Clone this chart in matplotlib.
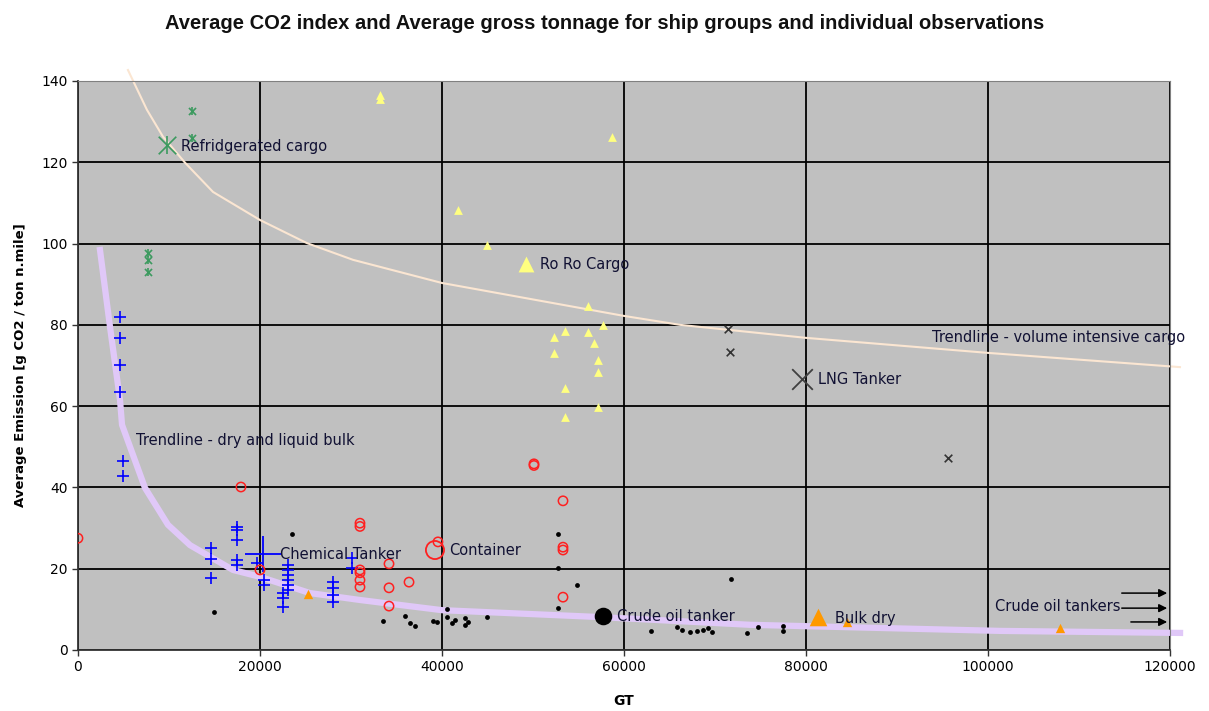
import matplotlib
matplotlib.use("Agg")
import matplotlib.pyplot as plt
from matplotlib import font_manager

# ship group observations (GT, g CO2 / ton n.mile)
reefer_gt = [12530, 12530, 7690, 7690, 7690]
reefer_co2 = [132.6, 126.0, 97.7, 96.0, 93.0]
reefer_avg = (9780, 124.2)

roro_gt = [33200, 33200, 58690, 41760, 44950, 56050, 57700, 53520, 52310, 56050,
           56710, 52310, 57150, 57150, 53520, 57150, 53520]
roro_co2 = [136.6, 135.6, 126.2, 108.3, 99.7, 84.6, 80.0, 78.5, 77.0, 78.2,
            75.5, 73.1, 71.4, 68.4, 64.5, 59.8, 57.3]
roro_avg = (49230, 95.0)

lng_gt = [71430, 71650, 95610]
lng_co2 = [79.0, 73.3, 47.2]
lng_avg = (79560, 66.7)

chem_gt = [4610, 4610, 4610, 4610, 4940, 4940, 14620, 14620, 14620,
           17470, 17470, 17470, 17470, 17470, 19670, 20440, 20440,
           23080, 23080, 23080, 23080, 23080, 23080, 22530, 22530, 22530,
           28020, 28020, 28020, 28020, 30110, 30110]
chem_co2 = [81.9, 76.8, 70.1, 63.5, 46.5, 42.8, 25.1, 22.4, 17.7,
            30.3, 29.5, 27.1, 22.1, 20.9, 21.4, 17.2, 16.0,
            20.9, 19.7, 18.5, 17.2, 16.0, 14.8, 14.0, 12.8, 10.6,
            16.7, 15.3, 13.5, 11.8, 22.6, 20.2]
chem_avg = (20330, 23.6)

cont_gt = [0, 17910, 20000, 30990, 30990, 30990, 30990, 30990, 30990,
           34180, 34180, 34180, 36380, 39560, 50110, 50110, 53300, 53300,
           53300, 53300]
cont_co2 = [27.5, 40.1, 19.7, 31.2, 30.4, 19.7, 19.0, 17.2, 15.5,
            21.2, 15.3, 10.8, 16.7, 26.6, 45.8, 45.4, 36.7, 25.3,
            24.6, 13.0]
cont_avg = (39230, 24.6)

crude_gt = [23520, 14950, 33520, 35940, 36490, 37040, 39010, 39450, 40550,
            40550, 41100, 41430, 42530, 42530, 42860, 44950, 52750, 52750,
            52750, 54840, 62970, 65830, 66380, 67260, 68030, 68690, 69240,
            69680, 71770, 73520, 74730, 77460, 77460]
crude_co2 = [28.5, 9.4, 7.1, 8.4, 6.6, 5.9, 7.1, 6.9, 10.1,
             8.1, 6.6, 7.4, 7.9, 6.2, 6.9, 8.1, 28.5, 20.2,
             10.3, 16.0, 4.7, 5.7, 4.9, 4.4, 4.7, 4.8, 5.4,
             4.4, 17.5, 4.2, 5.6, 5.8, 4.7]
crude_avg = (57690, 8.4)

bulk_gt = [25280, 84510, 107920]
bulk_co2 = [13.9, 6.9, 5.4]
bulk_avg = (81330, 8.1)

# trendlines as drawn in the picture
trend_bulk_gt = [2420, 3520, 4620, 4840, 7360, 9890, 12310, 17030, 20000,
                 25500, 31000, 40000, 57370, 73850, 101330, 121110]
trend_bulk_co2 = [98.4, 79.5, 61.5, 55.4, 39.9, 30.8, 25.8, 19.7, 18.0,
                  14.0, 12.3, 9.8, 8.1, 6.2, 4.7, 4.2]
trend_vol_gt = [5490, 7580, 9340, 11760, 14840, 20000, 25170, 30220, 40000,
                60000, 66160, 80000, 100000, 121100]
trend_vol_co2 = [142.7, 132.9, 126.3, 119.9, 112.7, 105.8, 100.1, 96.0, 90.3,
                 82.2, 80.0, 76.8, 73.1, 69.6]

# narrow title font if there is one, else plain Liberation Sans
names = {f.name for f in font_manager.fontManager.ttflist}
if "Liberation Sans Narrow" in names:
    title_font, title_size = "Liberation Sans Narrow", 15
else:
    title_font, title_size = "Liberation Sans", 14.5

fig = plt.figure(figsize=(12.09, 7.11), dpi=100)
ax = fig.add_axes([0.0645, 0.0858, 0.9032, 0.8003])
ax.set_facecolor("#c0c0c0")
ax.set_xlim(0, 120000)
ax.set_ylim(0, 140)
ax.set_xticks(range(0, 120001, 20000))
ax.set_yticks(range(0, 141, 20))
ax.grid(True, color="black", linewidth=1.3, zorder=0)
ax.set_axisbelow(True)
for s in ["top", "right"]:
    ax.spines[s].set_color("#808080")
for s in ["left", "bottom"]:
    ax.spines[s].set_color("#333333")
    ax.spines[s].set_linewidth(1.3)
ax.tick_params(labelsize=10, length=4, width=1, color="#333333")

ax.plot(trend_bulk_gt, trend_bulk_co2, color="#e0c8f8", lw=4.5, clip_on=False, zorder=2)
ax.plot(trend_vol_gt, trend_vol_co2, color="#fbe6d2", lw=1.5, clip_on=False, zorder=2)

green = "#3c9a5f"
ax.scatter(reefer_gt, reefer_co2, marker="x", s=26, color=green, lw=1.2, zorder=3)
ax.scatter(reefer_gt, reefer_co2, marker="|", s=26, color=green, lw=1.2, zorder=3)
ax.scatter(*reefer_avg, marker="x", s=160, color=green, lw=1.2, zorder=3)
ax.scatter(*reefer_avg, marker="|", s=160, color=green, lw=1.2, zorder=3)

ax.scatter(roro_gt, roro_co2, marker="^", s=40, color="#ffff80", lw=0, zorder=3)
ax.scatter(*roro_avg, marker="^", s=130, color="#ffff80", lw=0, zorder=3)

ax.scatter(lng_gt, lng_co2, marker="x", s=30, color="#333333", lw=1.2, zorder=3)
ax.scatter(*lng_avg, marker="x", s=220, color="#404040", lw=1.3, zorder=3)

ax.scatter(chem_gt, chem_co2, marker="+", s=70, color="#0000ff", lw=1.2, zorder=3)
ax.scatter(*chem_avg, marker="+", s=700, color="#0000ff", lw=1.3, zorder=3)

ax.scatter(cont_gt, cont_co2, marker="o", s=45, facecolors="none", edgecolors="#ff2020", lw=1.1, zorder=3)
ax.scatter(*cont_avg, marker="o", s=170, facecolors="none", edgecolors="#ff2020", lw=1.3, zorder=3)

ax.scatter(crude_gt, crude_co2, marker="o", s=12, color="black", lw=0, zorder=3)
ax.scatter(*crude_avg, marker="o", s=160, color="black", lw=0, zorder=3)

ax.scatter(bulk_gt, bulk_co2, marker="^", s=45, color="#ff9900", lw=0, zorder=3)
ax.scatter(*bulk_avg, marker="^", s=160, color="#ff9900", lw=0, zorder=3)

tkw = dict(fontsize=10.5, color="#111133", va="center", ha="left", zorder=4)
ax.text(11300, 124.0, "Refridgerated cargo", **tkw)
ax.text(50800, 94.8, "Ro Ro Cargo", **tkw)
ax.text(93900, 76.8, "Trendline - volume intensive cargo", **tkw)
ax.text(81300, 66.5, "LNG Tanker", **tkw)
ax.text(6400, 51.5, "Trendline - dry and liquid bulk", **tkw)
ax.text(22200, 23.6, "Chemical Tanker", **tkw)
ax.text(40800, 24.5, "Container", **tkw)
ax.text(59200, 8.3, "Crude oil tanker", **tkw)
ax.text(83200, 7.8, "Bulk dry", **tkw)
ax.text(100800, 10.8, "Crude oil tankers", **tkw)

akw = dict(arrowstyle="-|>", color="black", lw=1.1, mutation_scale=12)
ax.annotate("", xy=(120000, 14.0), xytext=(114400, 14.0), arrowprops=akw, annotation_clip=False)
ax.annotate("", xy=(120000, 10.3), xytext=(114400, 10.3), arrowprops=akw, annotation_clip=False)
ax.annotate("", xy=(120000, 6.9), xytext=(115400, 6.9), arrowprops=akw, annotation_clip=False)

ax.set_xlabel("GT", fontsize=10, fontweight="bold", labelpad=14)
ax.set_ylabel("Average Emission [g CO2 / ton n.mile]", fontsize=9.5, fontweight="bold", labelpad=10)
fig.suptitle("Average CO2 index and Average gross tonnage for ship groups and individual observations",
             x=0.5, y=0.98, fontsize=title_size, fontweight="bold", color="#111111",
             family=[title_font, "DejaVu Sans"])

fig.savefig("out.png", dpi=100)
